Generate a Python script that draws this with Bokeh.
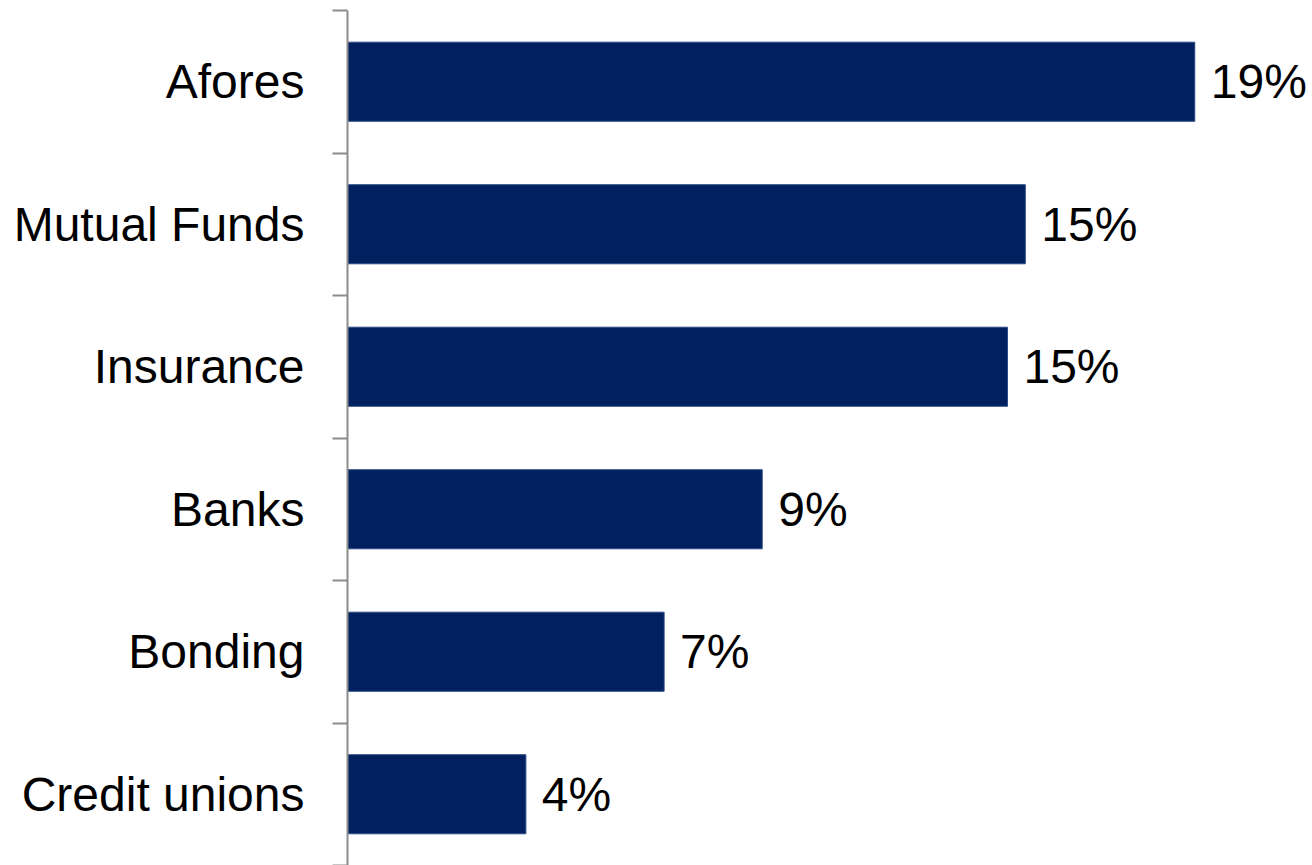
from bokeh.plotting import figure
from bokeh.models import ColumnDataSource, Range1d, FixedTicker
from bokeh.core.properties import value
from bokeh.embed import file_html
from bokeh.resources import INLINE

categories = ["Afores", "Mutual Funds", "Insurance", "Banks", "Bonding", "Credit unions"]
shares = [19.0, 15.2, 14.8, 9.3, 7.1, 4.0]
share_labels = ["19%", "15%", "15%", "9%", "7%", "4%"]

n = len(categories)
ypos = [n - i - 0.5 for i in range(n)]

src = ColumnDataSource(dict(cat=categories, y=ypos, v=shares, lab=share_labels))

p = figure(width=1312, height=865, output_backend="svg", toolbar_location=None,
           x_range=Range1d(0, 21.64), y_range=Range1d(0, n),
           x_axis_location=None, min_border_left=347, min_border_right=0,
           min_border_top=10, min_border_bottom=0)
p.outline_line_color = None
p.xgrid.visible = False
p.ygrid.visible = False
p.background_fill_color = "white"
p.border_fill_color = "white"

p.hbar(y="y", left=0, right="v", height=0.555, source=src,
       fill_color="#00205F", line_color="#2B4A85", line_width=1)

p.text(x="v", y="y", text="lab", source=src, x_offset=16,
       text_font=value("Liberation Sans"), text_font_size="48px",
       text_baseline="middle", text_align="left", text_color="black")

ax = p.yaxis[0]
ax.ticker = FixedTicker(ticks=ypos, minor_ticks=list(range(n + 1)))
ax.major_label_overrides = {y: c for y, c in zip(ypos, categories)}
ax.major_tick_out = 0
ax.major_tick_in = 0
ax.minor_tick_out = 15
ax.minor_tick_in = 0
ax.minor_tick_line_color = "#8C8C8C"
ax.minor_tick_line_width = 2
ax.axis_line_color = "#8C8C8C"
ax.axis_line_width = 2
ax.major_label_standoff = 28
ax.major_label_text_font = "Liberation Sans"
ax.major_label_text_font_size = "48px"
ax.major_label_text_color = "black"

open("out.html", "w").write(file_html(p, INLINE))
